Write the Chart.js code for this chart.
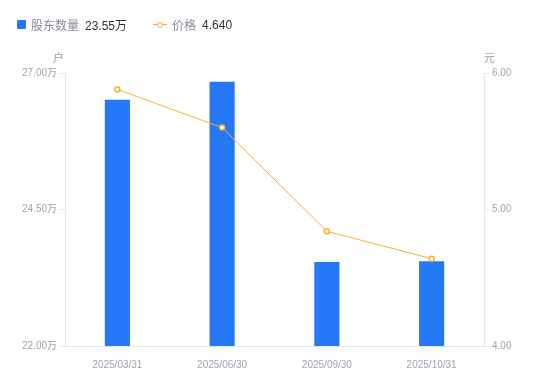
<!DOCTYPE html>
<html lang="zh">
<head>
<meta charset="UTF-8">
<title>股东数量</title>
<style>
  body { margin: 0; background: #fff; font-family: "Liberation Sans", "Noto Sans CJK SC", sans-serif; }
  .wrap { position: relative; width: 550px; height: 381px; }
  .legend { position: absolute; top: 16px; left: 17px; font-size: 12px; display: flex; align-items: center; }
  .legend .item { display: flex; align-items: center; margin-right: 26px; }
  .legend .sq { width: 9px; height: 9px; background: #2677f6; border-radius: 1px; margin-right: 5px; }
  .legend .ln { position: relative; width: 14px; height: 9px; margin-right: 5px; }
  .legend .ln:before { content: ""; position: absolute; left: 0; right: 0; top: 4px; height: 1px; background: #f7b02f; }
  .legend .ln:after { content: ""; position: absolute; left: 4px; top: 1.5px; width: 4px; height: 4px; border: 1.5px solid #f7b02f; border-radius: 50%; background: #fff; }
  .legend .name { color: #8a8a99; margin-right: 6px; }
  .legend .val { color: #333; }
  .unit { position: absolute; top: 49px; font-size: 11px; color: #9a9aab; }
  canvas { position: absolute; left: 0; top: 0; }
</style>
</head>
<body>
<div class="wrap">
  <canvas id="c" width="550" height="381"></canvas>
  <div class="legend">
    <div class="item"><span class="sq"></span><span class="name">股东数量</span><span class="val">23.55万</span></div>
    <div class="item"><span class="ln"></span><span class="name">价格</span><span class="val">4.640</span></div>
  </div>
  <div class="unit" style="left:53px">户</div>
  <div class="unit" style="left:484px">元</div>
</div>
<script src="https://cdn.jsdelivr.net/npm/chart.js"></script>
<script>
const dates = ['2025/03/31', '2025/06/30', '2025/09/30', '2025/10/31'];
const holders = [26.51, 26.84, 23.54, 23.55];   // 万户
const prices = [5.88, 5.60, 4.84, 4.64];         // 元
const leftTicks = [22, 24.5, 27];
const rightTicks = [4, 5, 6];

const tickColor = '#a0a0b2';
const lineColor = '#e6e6ec';
Chart.defaults.font.family = '"Liberation Sans", "Noto Sans CJK SC", sans-serif';

new Chart(document.getElementById('c'), {
  data: {
    labels: dates,
    datasets: [
      {
        type: 'line', label: '价格', data: prices, yAxisID: 'y1',
        borderColor: '#f7b02f', borderWidth: 1, backgroundColor: '#fff',
        pointRadius: 2.5, pointBorderWidth: 1.5, pointBackgroundColor: '#fff',
        pointBorderColor: '#f7b02f', tension: 0, order: 0
      },
      {
        type: 'bar', label: '股东数量', data: holders, yAxisID: 'y',
        backgroundColor: '#2677f6', barPercentage: 0.24, categoryPercentage: 1, order: 1
      }
    ]
  },
  options: {
    responsive: false,
    animation: false,
    layout: { padding: { top: 73, left: 0, right: 0, bottom: 0 } },
    plugins: { legend: { display: false }, tooltip: { enabled: false } },
    scales: {
      x: {
        grid: { display: false },
        border: { display: true, color: lineColor },
        ticks: { color: tickColor, font: { size: 10 }, padding: 5 },
        afterFit(s) { s.height = 35; }
      },
      y: {
        position: 'left', min: 22, max: 27,
        afterBuildTicks(s) { s.ticks = leftTicks.map(v => ({ value: v })); },
        grid: { drawOnChartArea: false, drawTicks: true, tickLength: 5, color: lineColor },
        border: { display: true, color: lineColor },
        ticks: { color: tickColor, font: { size: 10 }, padding: 3, callback: v => v.toFixed(2) + '万' },
        afterFit(s) { s.width = 65; }
      },
      y1: {
        position: 'right', min: 4, max: 6,
        afterBuildTicks(s) { s.ticks = rightTicks.map(v => ({ value: v })); },
        grid: { drawOnChartArea: false, drawTicks: true, tickLength: 5, color: lineColor },
        border: { display: true, color: lineColor },
        ticks: { color: tickColor, font: { size: 10 }, padding: 3, callback: v => v.toFixed(2) },
        afterFit(s) { s.width = 66; }
      }
    }
  }
});
</script>
</body>
</html>
